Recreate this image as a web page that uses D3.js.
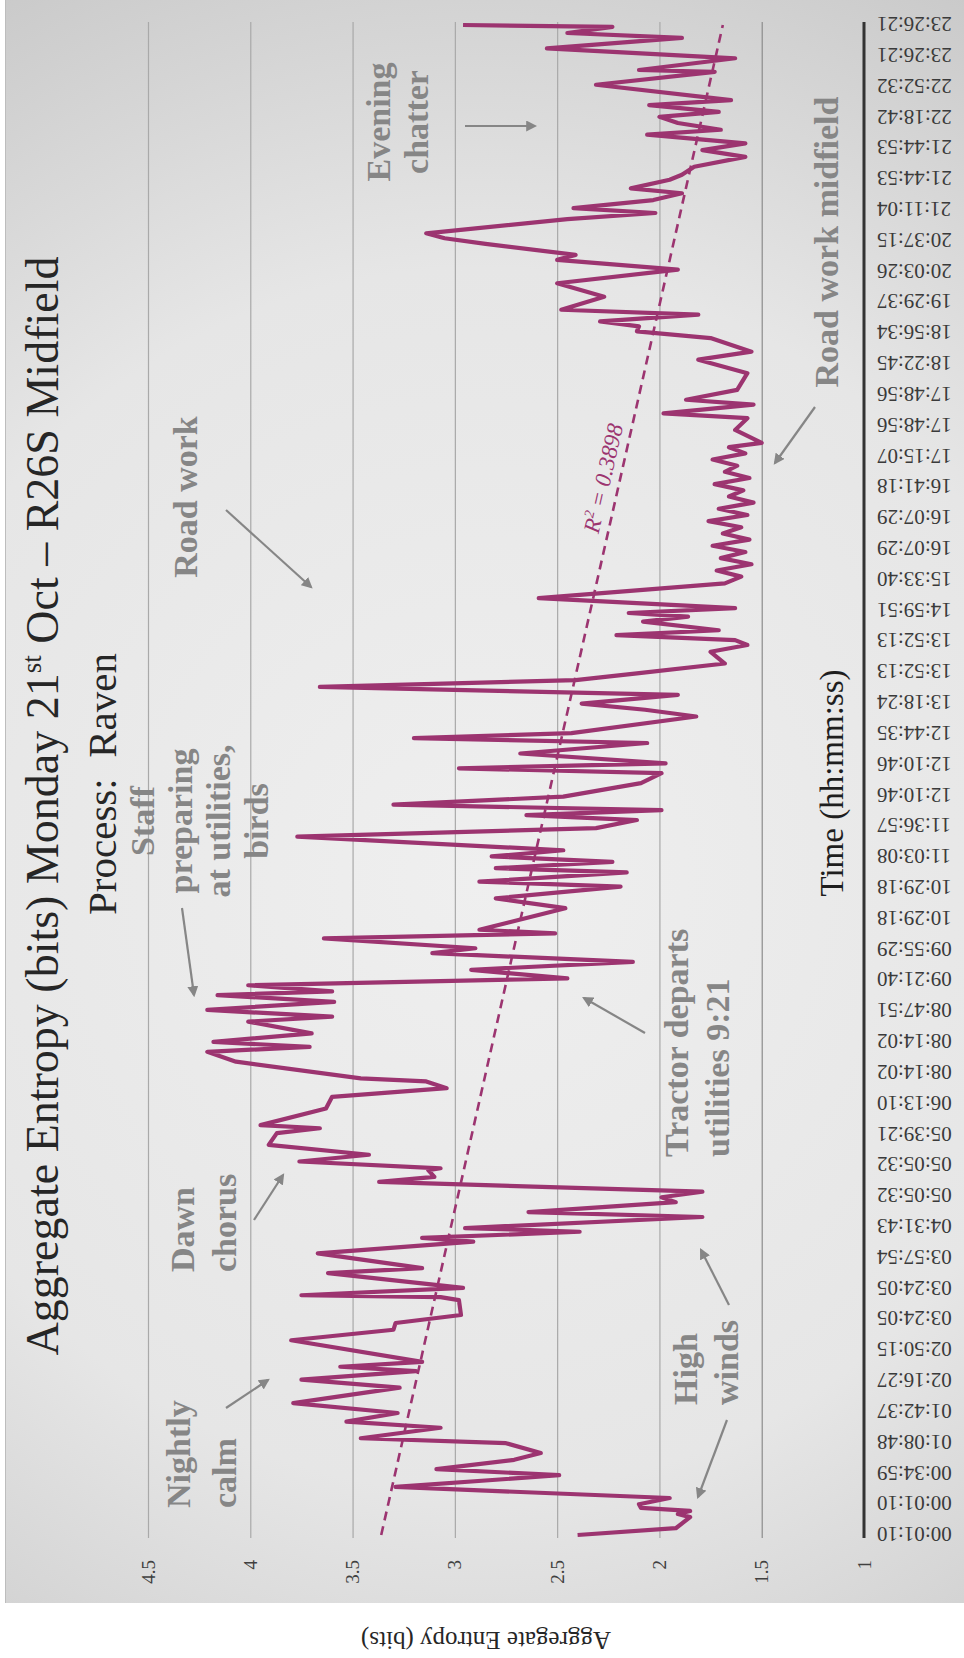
<!DOCTYPE html>
<html>
<head>
<meta charset="utf-8">
<script src="https://cdn.jsdelivr.net/npm/d3@7"></script>
<style>
  html, body { margin: 0; padding: 0; background: #ffffff; }
  svg { display: block; }
</style>
</head>
<body>
<svg id="chart" width="964" height="1658"></svg>
<script>
// ---- data -------------------------------------------------------------
// position of each vertex along the sample axis (0 = 00:01:10, 245 = 23:26:21)
const sampleNo = [
  0, 1.1, 2.9, 3.4, 3.9, 4.4, 5.0, 6.0, 7.8, 9.7, 10.7, 12.2, 13.3, 14.9, 15.7, 17.4,
  18.4, 19.8, 21.4, 23.9, 25.2, 26.6, 27.3, 28.1, 31.6, 33.3, 34.4, 35.7, 38.1, 38.6,
  38.9, 40.1, 42.5, 43.3, 45.7, 47.6, 48.2, 49.2, 49.8, 51.6, 52.4, 54.0, 54.8, 55.7,
  57.3, 58.1, 59.2, 59.5, 60.6, 61.7, 63.3, 65.2, 66.0, 66.5, 69.2, 71.1, 72.5, 73.6,
  74.1, 76.8, 78.4, 79.2, 80.0, 81.4, 83.3, 84.1, 85.2, 86.5, 87.6, 88.2, 89.2, 90.3,
  91.7, 93.0, 94.4, 95.2, 96.8, 97.6, 98.2, 101.7, 103.3, 105.2, 106.0, 107.5, 108.2,
  109.2, 110.1, 111.1, 113.3, 114.7, 116.0, 116.8, 117.6, 118.5, 119.8, 122.0, 123.6,
  124.4, 125.2, 126.8, 128.5, 129.3, 130.1, 132.8, 133.9, 134.9, 136.3, 137.6, 138.7,
  139.8, 141.4, 143.3, 144.4, 145.2, 146.0, 146.8, 148.2, 149.0, 149.6, 150.4, 152.0,
  154.4, 155.5, 156.5, 157.5, 158.5, 159.5, 160.5, 161.5, 162.5, 163.5, 164.5, 165.5,
  166.5, 167.5, 168.5, 169.5, 170.5, 171.5, 172.5, 173.5, 174.5, 175.5, 176.5, 177.2,
  179.3, 181.2, 182.0, 183.4, 184.2, 185.8, 188.5, 190.7, 192.0, 194.2, 195.3, 196.1,
  196.9, 198.0, 198.8, 200.9, 203.1, 205.3, 206.9, 207.7, 209.5, 210.4, 211.2, 213.5,
  214.5, 215.3, 216.6, 217.7, 218.5, 219.9, 220.7, 222.0, 223.6, 224.7, 225.8, 227.2,
  228.0, 229.1, 230.1, 230.9, 232.0, 232.8, 235.3, 237.4, 237.7, 239.6, 241.2, 242.9,
  243.7, 244.7, 245
];
// aggregate entropy (bits) at each vertex
const entropy = [
  2.40, 1.92, 1.85, 1.91, 1.85, 2.09, 2.10, 1.95, 3.29, 2.49, 3.09, 2.71, 2.58, 2.75, 3.46, 3.07,
  3.53, 3.28, 3.79, 3.27, 3.75, 3.19, 3.56, 3.16, 3.80, 3.30, 3.29, 2.97, 2.98, 3.07,
  3.75, 2.96, 3.62, 3.16, 3.67, 2.91, 3.16, 2.39, 2.95, 1.79, 2.64, 1.92, 1.99, 1.79,
  3.37, 3.10, 3.13, 3.07, 3.76, 3.42, 3.91, 3.87, 3.66, 3.95, 3.63, 3.60, 3.04, 3.14,
  3.46, 4.07, 4.21, 3.71, 4.18, 3.70, 4.01, 3.60, 4.21, 3.59, 4.16, 3.60, 4.01, 2.45,
  2.92, 2.13, 3.11, 2.90, 3.64, 2.51, 2.88, 2.46, 2.80, 2.19, 2.88, 2.16, 2.80,
  2.23, 2.82, 2.47, 3.77, 2.31, 2.11, 2.65, 1.99, 3.30, 2.47, 2.09, 1.99,
  2.98, 1.97, 2.68, 2.06, 3.20, 2.43, 1.82, 2.07, 2.38, 1.91, 3.66, 2.41,
  2.11, 1.68, 1.75, 1.57, 1.63, 2.21, 1.71, 2.08, 1.86, 2.15, 1.63, 2.59,
  1.68, 1.60, 1.72, 1.55, 1.70, 1.58, 1.74, 1.56, 1.69, 1.60, 1.76, 1.57,
  1.71, 1.54, 1.66, 1.59, 1.73, 1.56, 1.68, 1.62, 1.74, 1.58, 1.66, 1.50,
  1.63, 1.57, 1.98, 1.54, 1.87, 1.62, 1.57, 1.81, 1.55, 1.75, 2.11, 2.10,
  2.29, 1.81, 2.48, 2.27, 2.50, 1.91, 2.50, 2.41, 2.85, 3.05, 3.14, 2.45,
  2.02, 2.42, 2.03, 1.89, 2.14, 1.95, 1.89, 1.83, 1.58, 1.79, 1.58, 2.06,
  1.70, 1.91, 2.00, 1.71, 2.05, 1.65, 2.31, 1.73, 2.10, 1.63, 2.55, 1.89,
  2.45, 2.23, 2.96
];
const lastSample = 245;

// category labels along the time axis (one every 5 samples)
const timeLabels = [
  "00:01:10", "00:01:10", "00:34:59", "01:08:48", "01:42:37", "02:16:27", "02:50:15",
  "03:24:05", "03:24:05", "03:57:54", "04:31:43", "05:05:32", "05:05:32", "05:39:21",
  "06:13:10", "08:14:02", "08:14:02", "08:47:51", "09:21:40", "09:55:29", "10:29:18",
  "10:29:18", "11:03:08", "11:36:57", "12:10:46", "12:10:46", "12:44:35", "13:18:24",
  "13:52:13", "13:52:13", "14:59:51", "15:33:40", "16:07:29", "16:07:29", "16:41:18",
  "17:15:07", "17:48:56", "17:48:56", "18:22:45", "18:56:34", "19:29:37", "20:03:26",
  "20:37:15", "21:11:04", "21:44:53", "21:44:53", "22:18:42", "22:52:32", "23:26:21",
  "23:26:21"
];
const valueTicks = [1, 1.5, 2, 2.5, 3, 3.5, 4, 4.5];

// linear trend line (value at first and last sample) and its fit
const trendFirst = 3.36;
const trendLast = 1.69;
const trendR2 = "0.3898";

// ---- layout -----------------------------------------------------------
const W = 964, H = 1658;
const LINE_COLOR = "#9c3470";
const NOTE_COLOR = "#868686";
const SERIF = "'Liberation Serif', 'Times New Roman', serif";

const svg = d3.select("#chart");
const defs = svg.append("defs");

// soft grey chart-area fill
const bg = defs.append("radialGradient")
  .attr("id", "areaFill").attr("gradientUnits", "userSpaceOnUse")
  .attr("cx", 480).attr("cy", 880).attr("r", 1020);
bg.append("stop").attr("offset", 0).attr("stop-color", "#efefef");
bg.append("stop").attr("offset", 0.6).attr("stop-color", "#e6e6e6");
bg.append("stop").attr("offset", 1).attr("stop-color", "#c9c9c9");

defs.append("marker")
  .attr("id", "arrowHead").attr("viewBox", "0 0 10 10")
  .attr("refX", 8).attr("refY", 5)
  .attr("markerWidth", 5).attr("markerHeight", 5)
  .attr("orient", "auto")
  .append("path").attr("d", "M0,0L10,5L0,10z").attr("fill", NOTE_COLOR);

svg.append("rect")
  .attr("x", 5).attr("y", 0).attr("width", W - 5).attr("height", 1603)
  .attr("fill", "url(#areaFill)");
svg.append("line")
  .attr("x1", 5.5).attr("x2", 5.5).attr("y1", 0).attr("y2", 1603)
  .attr("stroke", "#bdbdbd").attr("stroke-width", 1);

// The chart is laid out landscape (time left to right) and turned a quarter
// turn counter-clockwise onto the portrait page.
const g = svg.append("g").attr("transform", `translate(0,${H}) rotate(-90)`);
// page point (px, py) -> landscape point
const P = (px, py) => [H - py, px];

const x = d3.scaleLinear().domain([0, lastSample]).range([123, 1633]);
const y = d3.scaleLinear().domain([1, 4.5]).range([864, 148]);
const axisStart = 120, axisEnd = 1636;

// value axis: grid lines + labels
const yAxis = g.append("g")
  .attr("transform", `translate(${axisStart},0)`)
  .call(d3.axisLeft(y).tickValues(valueTicks)
    .tickSize(-(axisEnd - axisStart)).tickPadding(22)
    .tickFormat(d3.format("")));
yAxis.select(".domain").remove();
yAxis.selectAll(".tick line")
  .attr("stroke", d => d === 1.5 ? "#8c8c8c" : "#a9a9a9")
  .attr("stroke-width", d => d === 1 ? 0 : 1.2);
yAxis.selectAll(".tick text")
  .attr("font-family", SERIF).attr("font-size", 19).attr("fill", "#404040");

// category (time) axis
const tp = d3.scalePoint()
  .domain(d3.range(timeLabels.length))
  .range([x(0), x(lastSample)]);
const xAxis = g.append("g")
  .attr("transform", `translate(0,${y(1)})`)
  .call(d3.axisBottom(tp).tickSize(0).tickFormat(i => timeLabels[i]));
xAxis.select(".domain")
  .attr("d", `M${axisStart},0H${axisEnd}`)
  .attr("stroke", "#333").attr("stroke-width", 3);
xAxis.selectAll(".tick text")
  .attr("transform", "rotate(-90)")
  .attr("text-anchor", "end")
  .attr("x", -13).attr("y", 0).attr("dy", "0.35em")
  .attr("font-family", SERIF).attr("font-size", 21).attr("fill", "#3a3a3a");

// trend line
g.append("line")
  .attr("x1", x(0)).attr("y1", y(trendFirst))
  .attr("x2", x(lastSample)).attr("y2", y(trendLast))
  .attr("stroke", LINE_COLOR).attr("stroke-width", 2.6)
  .attr("stroke-dasharray", "9,6");

// entropy series
const series = d3.zip(sampleNo, entropy);
g.append("path")
  .datum(series)
  .attr("fill", "none")
  .attr("stroke", LINE_COLOR)
  .attr("stroke-width", 4.2)
  .attr("stroke-linejoin", "round")
  .attr("d", d3.line().x(d => x(d[0])).y(d => y(d[1])));

// R² label along the trend line
{
  const s = x.invert(1178);
  const tv = trendFirst + (trendLast - trendFirst) * s / lastSample;
  const ang = Math.atan2(y(trendLast) - y(trendFirst), x(lastSample) - x(0)) * 180 / Math.PI;
  const t = g.append("text")
    .attr("transform", `translate(${x(s)},${y(tv) - 9}) rotate(${ang})`)
    .attr("text-anchor", "middle")
    .attr("font-family", SERIF).attr("font-style", "italic")
    .attr("font-size", 23).attr("fill", LINE_COLOR);
  t.append("tspan").text("R");
  t.append("tspan").attr("font-size", 14).attr("dy", -9).text("2");
  t.append("tspan").attr("dy", 9).text(" = " + trendR2);
}

// titles
{
  const [tx] = P(0, 806);
  const t = g.append("text")
    .attr("x", tx).attr("y", 58)
    .attr("text-anchor", "middle")
    .attr("font-family", SERIF).attr("font-size", 46).attr("fill", "#262626");
  t.append("tspan").text("Aggregate Entropy (bits) Monday 21");
  t.append("tspan").attr("font-size", 27).attr("dy", -17).text("st");
  t.append("tspan").attr("dy", 17).text(" Oct \u2013 R26S Midfield");

  const [px] = P(0, 784);
  g.append("text")
    .attr("x", px).attr("y", 116)
    .attr("text-anchor", "middle")
    .attr("font-family", SERIF).attr("font-size", 41).attr("fill", "#262626")
    .text("Process:\u00a0\u00a0Raven");

  const [ax] = P(0, 783);
  g.append("text")
    .attr("x", ax).attr("y", 843)
    .attr("text-anchor", "middle")
    .attr("font-family", SERIF).attr("font-size", 33).attr("fill", "#1e1e1e")
    .text("Time (hh:mm:ss)");

  g.append("text")
    .attr("transform", `translate(${H - 1632},486) rotate(-90)`)
    .attr("text-anchor", "middle")
    .attr("font-family", SERIF).attr("font-size", 25).attr("fill", "#262626")
    .text("Aggregate Entropy (bits)");
}

// event notes
const notes = [
  { lines: ["Evening", "chatter"], anchor: "middle", py: 122, base: [390, 428] },
  { lines: ["Road work midfield"], anchor: "middle", py: 242, base: [838] },
  { lines: ["Road work"], anchor: "middle", py: 497, base: [197] },
  { lines: ["Staff", "preparing", "at utilities,", "birds"], anchor: "middle", py: 821, base: [154, 192, 230, 268] },
  { lines: ["Tractor departs", "utilities 9:21"], anchor: "start", py: 1157, base: [688, 729] },
  { lines: ["Dawn", "chorus"], anchor: "start", py: 1272, base: [194, 236] },
  { lines: ["High", "winds"], anchor: "start", py: 1405, base: [697, 738] },
  { lines: ["Nightly", "calm"], anchor: "start", py: 1508, base: [190, 236] }
];
const pointers = [
  [[465, 126], [535, 126]],
  [[815, 407], [775, 463]],
  [[226, 510], [311, 587]],
  [[182, 908], [194, 995]],
  [[645, 1033], [584, 998]],
  [[254, 1220], [283, 1175]],
  [[729, 1305], [701, 1250]],
  [[727, 1420], [698, 1497]],
  [[226, 1408], [268, 1380]]
];

const noteG = g.append("g")
  .attr("font-family", SERIF).attr("font-weight", "bold")
  .attr("font-size", 34).attr("fill", NOTE_COLOR);
notes.forEach(n => {
  const lx = H - n.py;
  n.lines.forEach((s, k) => {
    noteG.append("text")
      .attr("x", lx).attr("y", n.base[k])
      .attr("text-anchor", n.anchor)
      .text(s);
  });
});
g.append("g").selectAll("line")
  .data(pointers)
  .join("line")
  .attr("x1", d => P(...d[0])[0]).attr("y1", d => P(...d[0])[1])
  .attr("x2", d => P(...d[1])[0]).attr("y2", d => P(...d[1])[1])
  .attr("stroke", NOTE_COLOR).attr("stroke-width", 2.2)
  .attr("marker-end", "url(#arrowHead)");
</script>
</body>
</html>
